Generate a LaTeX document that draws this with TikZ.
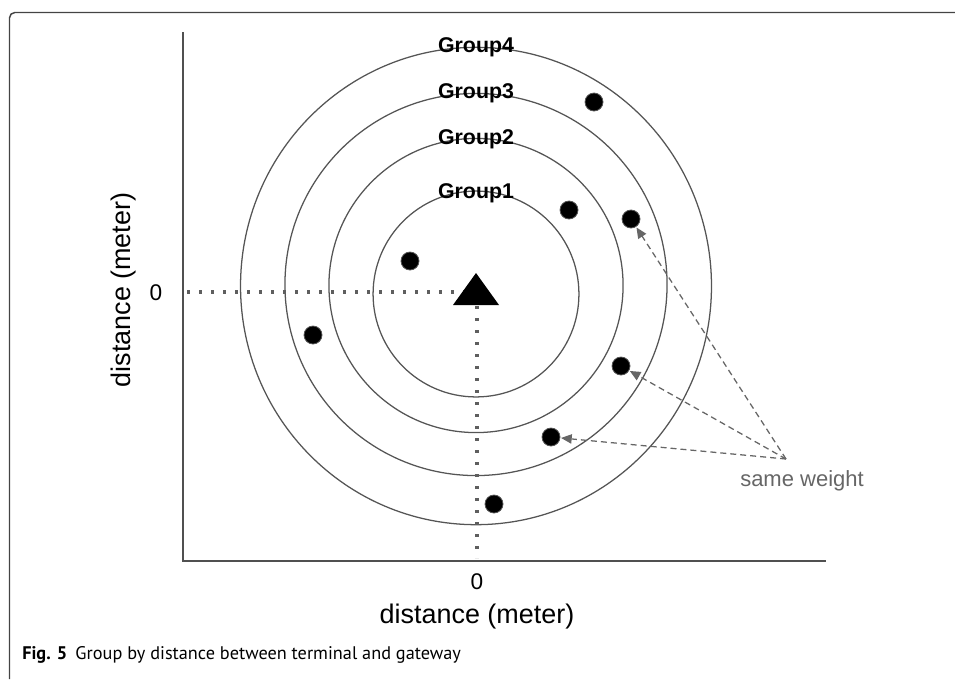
\documentclass[tikz,border=0pt]{standalone}
\usepackage{fontspec}
\setmainfont{Liberation Sans}
\newfontfamily\capfont{PT Sans}
\usetikzlibrary{arrows.meta}
\definecolor{ringc}{HTML}{555555}
\definecolor{axc}{HTML}{505050}
\definecolor{dotc}{HTML}{666666}
\definecolor{dotlc}{HTML}{5E5E5E}
\definecolor{framec}{HTML}{444444}
\tikzset{
  ring/.style={draw=ringc, line width=0.95pt},
  axisline/.style={draw=axc, line width=1.1pt},
  dotline/.style={draw=dotlc, line width=2.4pt, dash pattern=on 2.4pt off 6.6pt},
  term/.style={circle, fill=black, draw=ringc, line width=0.6pt, minimum size=13.5pt, inner sep=0pt},
  grplabel/.style={font=\fontsize{16pt}{17pt}\selectfont\bfseries, inner sep=0pt},
  axlabel/.style={font=\fontsize{20.2pt}{22pt}\selectfont, inner sep=0pt},
  zerolabel/.style={font=\fontsize{17pt}{18pt}\selectfont, inner sep=0pt},
  weightarrow/.style={draw=dotc, line width=0.95pt, dash pattern=on 4.5pt off 3pt, -{Triangle[length=8pt,width=7pt]}, shorten >=0.5pt}
}
\begin{document}
\begin{tikzpicture}[x=0.75pt, y=-0.75pt]
\useasboundingbox (0,0) rectangle (955,679);
% frame
\draw[framec, line width=1.1pt, rounded corners=4pt] (9.5,679) -- (9.5,12.5) -- (955,12.5);
% axes
\coordinate (yt) at (183,32);
\coordinate (org) at (183,561);
\coordinate (xr) at (826,561);
\draw[axisline] (yt) -- (org) -- (xr);
% rings
\coordinate (c1) at (476,294);
\coordinate (c2) at (476,285.5);
\coordinate (c3) at (476,284.5);
\coordinate (c4) at (476,286);
\draw[ring] (c1) circle [radius=77.2pt];
\draw[ring] (c2) circle [radius=110.3pt];
\draw[ring] (c3) circle [radius=143.3pt];
\draw[ring] (c4) ellipse [x radius=176.6pt, y radius=179pt];
% group labels
\node[grplabel] (g4) at (476,47) {Group4};
\node[grplabel] (g3) at (476,93) {Group3};
\node[grplabel] (g2) at (476,139) {Group2};
\node[grplabel] (g1) at (476,193) {Group1};
% gateway
\coordinate (gw) at (476,292);
\coordinate (gwb) at (477,306);
\coordinate (hx) at (187,292);
\coordinate (vx) at (477,558);
\draw[dotline] (hx) -- (gw);
\draw[dotline] (gwb) -- (vx);
\fill[black] (476,273) -- (499,305) -- (453,305) -- cycle;
% terminals
\node[term] (d1) at (594,102) {};
\node[term] (d2) at (569,210) {};
\node[term] (d3) at (631,219) {};
\node[term] (d4) at (410,261) {};
\node[term] (d5) at (313,335) {};
\node[term] (d6) at (621,366) {};
\node[term] (d7) at (551,437) {};
\node[term] (d8) at (494,504) {};
% same weight
\node[font=\fontsize{16.5pt}{18pt}\selectfont, text=dotc, inner sep=0pt] (sw) at (802,481) {same weight};
\coordinate (src) at (786,459);
\draw[weightarrow] (src) -- (d3);
\draw[weightarrow] (src) -- (d6);
\draw[weightarrow] (src) -- (d7);
% axis labels
\node[zerolabel] (zy) at (156,293) {0};
\node[zerolabel] (zx) at (477,582) {0};
\node[axlabel, rotate=90] (ylab) at (124,290) {distance (meter)};
\node[axlabel] (xlab) at (477,617) {distance (meter)};
% caption
\node[anchor=base west, inner sep=0pt, font=\capfont\fontsize{13.7pt}{15pt}\selectfont] (cap) at (22,659) {\textbf{Fig. 5}\hspace{0.45em}Group by distance between terminal and gateway};
\end{tikzpicture}
\end{document}
